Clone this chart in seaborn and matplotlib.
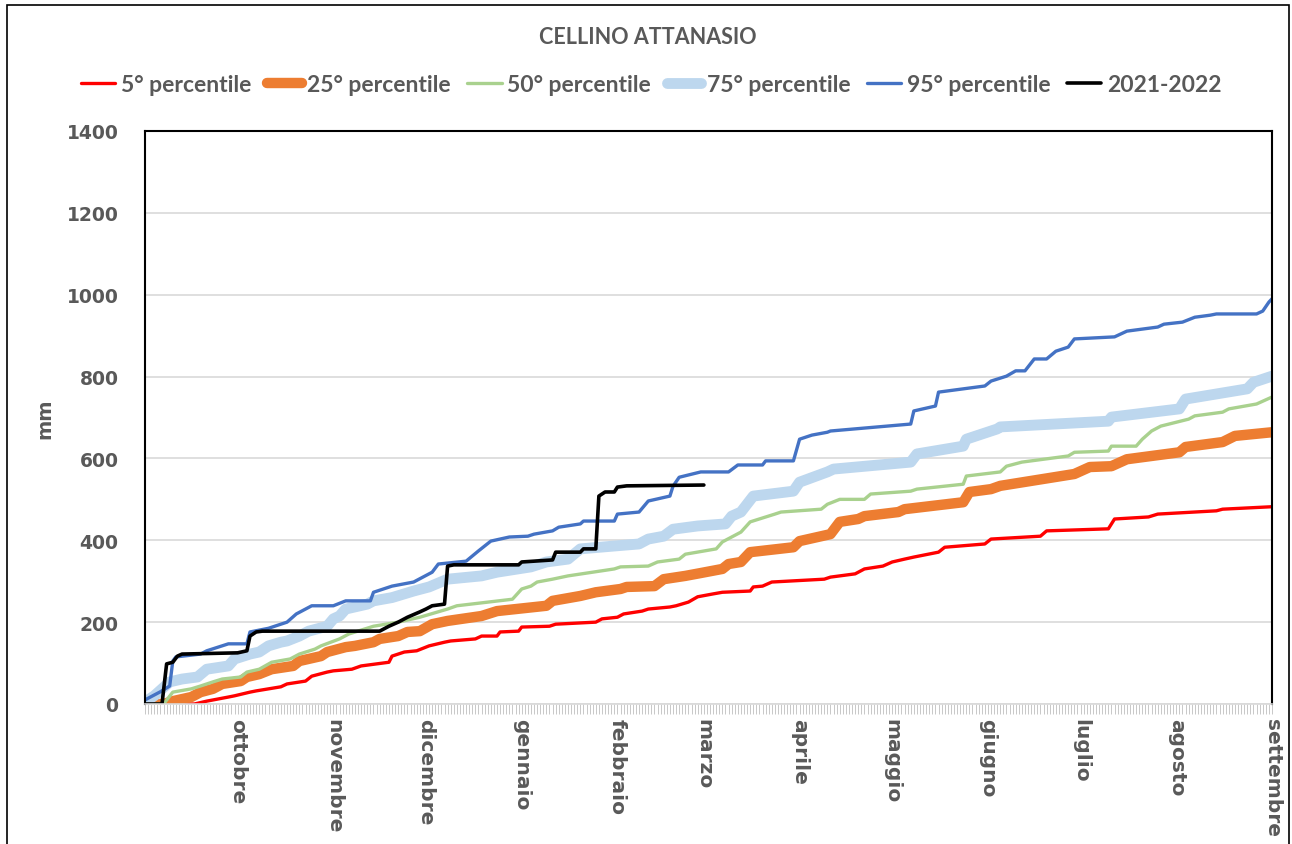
import matplotlib
matplotlib.use("Agg")
import matplotlib.pyplot as plt
import numpy as np
import pandas as pd
import seaborn as sns
from matplotlib.lines import Line2D
from matplotlib.patches import Rectangle
from matplotlib.transforms import ScaledTranslation

# ---------------- data (day of hydrological year from 1 Sep, cumulative mm) -------------
title = "CELLINO ATTANASIO"
month_labels = ["ottobre", "novembre", "dicembre", "gennaio", "febbraio", "marzo",
                "aprile", "maggio", "giugno", "luglio", "agosto", "settembre"]
month_days = [30, 61, 91, 122, 153, 181, 212, 242, 273, 303, 334, 365]
y_ticks = [0, 200, 400, 600, 800, 1000, 1200, 1400]

p5_days = [0, 16, 20, 27, 29, 34, 36, 44, 46, 52, 54, 59, 61, 67, 70, 79, 80, 84, 88, 92, 97, 99,
           107, 109, 114, 115, 121, 122, 131, 133, 146, 148, 153, 155, 161, 163, 170, 172, 176,
           179, 184, 187, 196, 197, 200, 203, 220, 222, 230, 233, 239, 242, 246, 249, 257, 259,
           272, 274, 290, 292, 312, 314, 325, 328, 347, 349, 365]
p5_mm = [0, 0, 7, 17, 20, 29, 32, 42, 49, 56, 68, 78, 81, 85, 93, 102, 117, 127, 130, 142, 151, 154,
         159, 166, 166, 176, 178, 188, 190, 195, 200, 208, 212, 220, 227, 232, 237, 240, 249,
         262, 269, 273, 276, 286, 288, 298, 305, 310, 318, 330, 337, 347, 354, 359, 371, 383,
         391, 403, 410, 423, 428, 452, 457, 464, 472, 476, 482]

p25_days = [0, 6, 9, 15, 18, 22, 25, 31, 33, 37, 41, 48, 50, 57, 59, 65, 68, 74, 76, 82, 85, 89,
            93, 98, 109, 114, 130, 132, 141, 146, 154, 156, 165, 168, 175, 180, 187, 189, 193,
            196, 210, 212, 222, 225, 231, 233, 244, 246, 265, 267, 274, 277, 301, 306, 313, 318,
            335, 337, 349, 353, 365]
p25_mm = [0, 0, 7, 17, 29, 37, 49, 56, 66, 73, 85, 93, 105, 117, 127, 139, 142, 151, 159, 166,
          176, 178, 195, 203, 215, 227, 240, 252, 264, 273, 281, 286, 288, 305, 313, 320, 330,
          342, 347, 371, 383, 398, 415, 445, 452, 459, 469, 476, 493, 518, 525, 533, 562, 579,
          581, 598, 615, 628, 640, 655, 664]

p50_days = [0, 6, 9, 15, 18, 22, 25, 31, 33, 37, 41, 47, 50, 55, 57, 63, 66, 74, 82, 89, 98, 101,
            119, 122, 125, 127, 132, 137, 152, 154, 163, 166, 173, 175, 185, 187, 193, 196, 204,
            206, 219, 221, 225, 233, 235, 248, 250, 265, 266, 277, 279, 284, 287, 299, 301, 312,
            313, 321, 323, 326, 329, 338, 340, 349, 351, 360, 365]
p50_mm = [0, 0, 29, 37, 44, 54, 61, 66, 78, 85, 102, 110, 122, 134, 142, 159, 171, 190, 200, 212,
          232, 240, 256, 281, 288, 298, 305, 313, 330, 335, 337, 347, 354, 366, 379, 396, 420,
          445, 464, 469, 476, 488, 500, 500, 513, 520, 525, 537, 557, 567, 581, 591, 594, 606,
          615, 618, 630, 630, 647, 667, 679, 696, 704, 713, 721, 733, 750]

p75_days = [0, 3, 8, 12, 17, 20, 27, 29, 34, 37, 40, 44, 46, 50, 53, 59, 61, 63, 65, 72, 74, 80,
            87, 92, 98, 109, 114, 125, 130, 137, 141, 152, 160, 163, 168, 171, 179, 188, 190, 193,
            197, 210, 212, 221, 223, 248, 250, 265, 266, 276, 277, 312, 313, 335, 337, 357, 359,
            365]
p75_mm = [5, 20, 54, 61, 66, 85, 93, 110, 122, 127, 142, 151, 154, 166, 178, 190, 208, 215, 232,
          244, 252, 260, 276, 286, 305, 313, 322, 335, 347, 354, 379, 386, 391, 403, 410, 427,
          435, 440, 459, 469, 508, 520, 542, 567, 574, 591, 611, 630, 647, 672, 677, 691, 701,
          721, 745, 770, 786, 801]

p95_days = [0, 5, 8, 9, 10, 18, 20, 27, 33, 34, 40, 46, 49, 54, 61, 65, 73, 74, 80, 87, 90, 93, 95,
            104, 108, 112, 118, 124, 126, 132, 134, 141, 142, 152, 153, 160, 163, 170, 171, 173,
            180, 189, 192, 200, 201, 210, 212, 216, 221, 222, 248, 249, 256, 257, 272, 274, 279,
            282, 285, 288, 292, 295, 299, 301, 314, 318, 328, 330, 336, 340, 345, 347, 360, 362,
            364, 365]
p95_mm = [10, 30, 44, 105, 115, 122, 130, 147, 147, 176, 185, 200, 220, 240, 240, 252, 252, 273,
          288, 298, 310, 322, 342, 349, 374, 398, 408, 410, 415, 423, 432, 440, 447, 447, 464,
          469, 496, 508, 532, 554, 567, 567, 584, 584, 594, 594, 647, 657, 664, 667, 684, 716,
          728, 762, 777, 789, 801, 814, 814, 843, 843, 862, 872, 892, 897, 911, 921, 928, 933,
          945, 950, 953, 953, 960, 982, 990]

cur_days = [0, 5.5, 7, 9, 10.5, 12, 30, 33, 34, 36, 38, 76, 79, 82, 85, 89, 91, 93, 97, 98, 100,
            121, 122, 132, 133, 141, 142, 146, 147, 149, 152, 153, 156, 181]
cur_mm = [0, 0, 98, 102, 117, 122, 125, 130, 166, 176, 178, 178, 190, 200, 212, 225, 232, 240,
          244, 337, 340, 340, 347, 352, 371, 371, 379, 379, 508, 518, 518, 530, 533, 535]

series = [
    ("5° percentile", p5_days, p5_mm, "#FF0000", 2.4),
    ("25° percentile", p25_days, p25_mm, "#ED7D31", 7.5),
    ("50° percentile", p50_days, p50_mm, "#A9D18E", 2.4),
    ("75° percentile", p75_days, p75_mm, "#BDD7EE", 7.8),
    ("95° percentile", p95_days, p95_mm, "#4472C4", 2.4),
    ("2021-2022", cur_days, cur_mm, "#000000", 2.6),
]

# ---------------- figure ----------------
sns.set_theme(style="white")
plt.rcParams["font.family"] = ["DejaVu Sans"]
text_col = "#595959"

W, H = 1292, 845
fig = plt.figure(figsize=(W / 100, H / 100), dpi=100)
ax = fig.add_axes([145 / W, 1 - 705 / H, (1272 - 145) / W, (705 - 132) / H])

for name, d, v, col, lw in series:
    df = pd.DataFrame({"day": d, "mm": v})
    sns.lineplot(data=df, x="day", y="mm", ax=ax, color=col, linewidth=lw,
                 solid_capstyle="round", solid_joinstyle="round", estimator=None,
                 sort=False, legend=False)

ax.set_xlim(0, 365)
ax.set_ylim(0, 1400)
ax.set_yticks(y_ticks)
ax.set_yticklabels([str(t) for t in y_ticks], fontsize=13.5, fontweight="bold", color=text_col)
ax.yaxis.grid(True, color="#d9d9d9", linewidth=1.2)
ax.xaxis.grid(False)
ax.set_axisbelow(True)

ax.set_xticks(month_days)
ax.set_xticklabels(month_labels, rotation=270, fontsize=14.5, fontweight="bold",
                   color=text_col, va="top", ha="center")
shift = ScaledTranslation(-5 / 100, 0, fig.dpi_scale_trans)
for lab in ax.get_xticklabels():
    lab.set_transform(lab.get_transform() + shift)
ax.set_xticks(np.arange(0, 366, 1), minor=True)
ax.tick_params(axis="x", which="both", direction="out", length=7, width=0.6,
               color="#bfbfbf", bottom=True, pad=3)
ax.tick_params(axis="y", length=0, pad=19)

ax.set_xlabel("")
ax.set_ylabel("mm", fontsize=14, fontweight="bold", color=text_col, labelpad=9)

for s in ["left", "right", "top"]:
    ax.spines[s].set_visible(True)
    ax.spines[s].set_color("#000000")
    ax.spines[s].set_linewidth(1.5)
ax.spines["bottom"].set_color("#d9d9d9")
ax.spines["bottom"].set_linewidth(1.2)

fig.text(648 / W, 1 - 37 / H, title, ha="center", va="center", fontsize=15.5,
         fontweight="bold", color=text_col, family=["Lato", "DejaVu Sans"])

handles = [Line2D([0], [0], color=col, linewidth=lw, solid_capstyle="round")
           for name, d, v, col, lw in series]
labels = [s[0] for s in series]
leg = fig.legend(handles, labels, loc="center", bbox_to_anchor=(651 / W, 1 - 86 / H),
                 ncol=6, frameon=False, handlelength=1.5, handletextpad=0.25,
                 columnspacing=0.7,
                 prop={"family": ["Lato", "DejaVu Sans"], "weight": "bold", "size": 16.5})
for t in leg.get_texts():
    t.set_color(text_col)

fig.patches.append(Rectangle((7 / W, -0.01), (1289 - 7) / W, 1.01 - 6 / H,
                             transform=fig.transFigure, fill=False,
                             edgecolor="#000000", linewidth=1.2))

fig.savefig("out.png", dpi=100)
